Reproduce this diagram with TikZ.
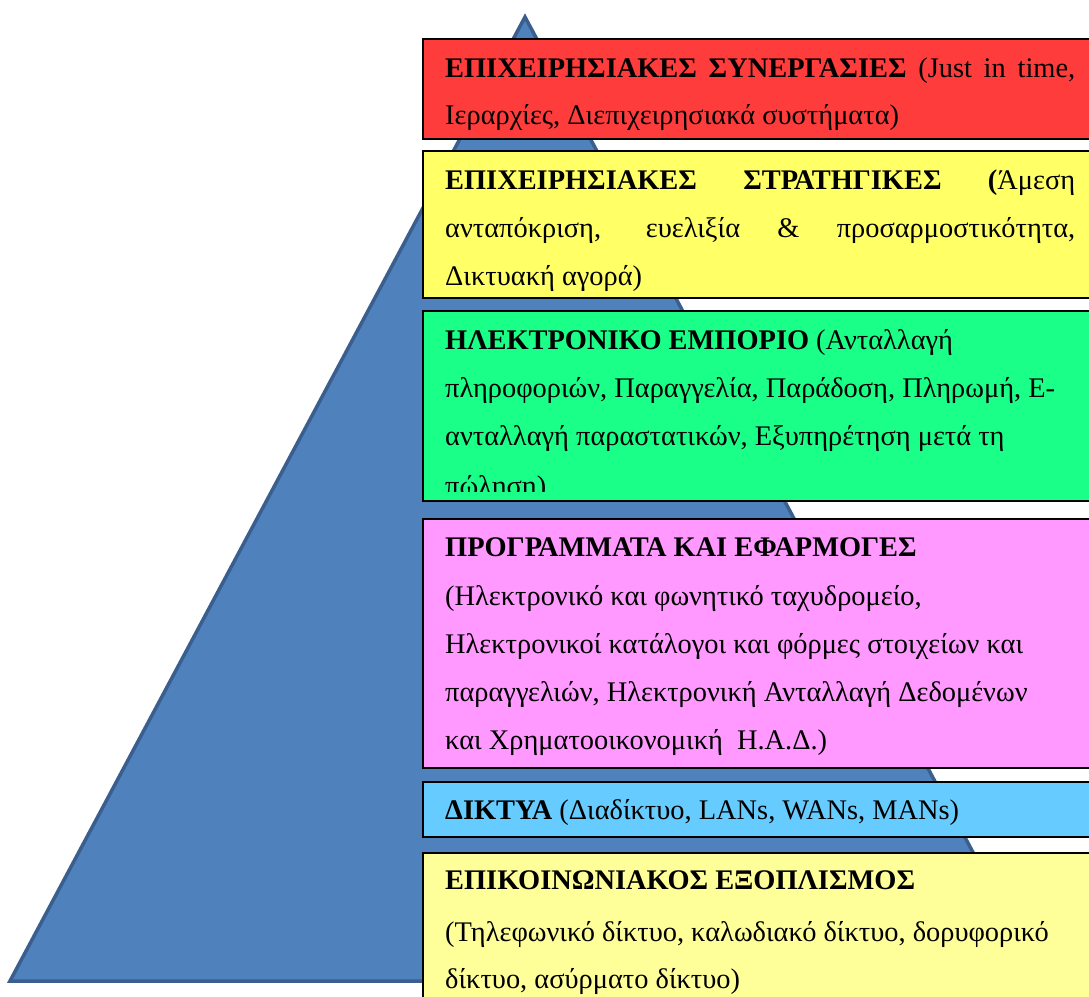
\documentclass[tikz,border=0pt]{standalone}
\usepackage{fontspec}
\setmainfont{Liberation Serif}
\definecolor{pyrfill}{HTML}{4F81BD}
\definecolor{pyredge}{HTML}{3A5F8E}
\definecolor{cred}{HTML}{FF3C3C}
\definecolor{cyel}{HTML}{FFFF66}
\definecolor{cgreen}{HTML}{1AFF88}
\definecolor{cmag}{HTML}{FF99FF}
\definecolor{ccyan}{HTML}{66CCFF}
\definecolor{clyel}{HTML}{FFFF99}
\begin{document}
\begin{tikzpicture}[x=1pt,y=-1pt,
  pyr/.style={fill=pyrfill,draw=pyredge,line width=3.5pt,line join=miter},
  layer/.style={draw=black,line width=2pt},
  txt/.style={anchor=base west,inner sep=0pt,font=\fontsize{28.4}{34}\selectfont}]
\useasboundingbox (0,0) rectangle (1089,996);
\clip (0,0) rectangle (1089,996);
% pyramid
\coordinate (apex) at (525,17);
\coordinate (bl) at (10,981);
\coordinate (br) at (1042,981);
\draw[pyr] (apex) -- (bl) -- (br) -- cycle;
% layers
\path[layer,fill=cred]   (423,39)  rectangle (1100,139);
\path[layer,fill=cyel]   (423,151) rectangle (1100,298);
\path[layer,fill=cgreen] (423,311) rectangle (1100,501);
\path[layer,fill=cmag]   (423,519) rectangle (1100,768);
\path[layer,fill=ccyan]  (423,782) rectangle (1100,837);
\path[layer,fill=clyel]  (423,853) rectangle (1100,1010);
% red
\node[txt] (r1) at (445,77) {\hbox to 630pt{\textbf{ΕΠΙΧΕΙΡΗΣΙΑΚΕΣ ΣΥΝΕΡΓΑΣΙΕΣ} (Just in time,}};
\node[txt] (r2) at (445,124) {Ιεραρχίες, Διεπιχειρησιακά συστήματα)};
% yellow
\node[txt] (y1) at (445,189) {\hbox to 630pt{\textbf{ΕΠΙΧΕΙΡΗΣΙΑΚΕΣ ΣΤΡΑΤΗΓΙΚΕΣ} \textbf{(}Άμεση}};
\node[txt] (y2) at (445,237) {\hbox to 630pt{ανταπόκριση, ευελιξία \& προσαρμοστικότητα,}};
\node[txt] (y3) at (445,285) {Δικτυακή αγορά)};
% green
\begin{scope}
\clip (423,311) rectangle (1100,491);
\node[txt] (g1) at (445,349) {\textbf{ΗΛΕΚΤΡΟΝΙΚΟ ΕΜΠΟΡΙΟ} (Ανταλλαγή};
\node[txt] (g2) at (445,397) {πληροφοριών, Παραγγελία, Παράδοση, Πληρωμή, Ε-};
\node[txt] (g3) at (445,445) {ανταλλαγή παραστατικών, Εξυπηρέτηση μετά τη};
\node[txt] (g4) at (445,495) {πώληση)};
\end{scope}
% magenta
\node[txt] (m1) at (445,556) {\textbf{ΠΡΟΓΡΑΜΜΑΤΑ ΚΑΙ ΕΦΑΡΜΟΓΕΣ}};
\node[txt] (m2) at (445,605) {(Ηλεκτρονικό και φωνητικό ταχυδρομείο,};
\node[txt] (m3) at (445,653) {Ηλεκτρονικοί κατάλογοι και φόρμες στοιχείων και};
\node[txt] (m4) at (445,701) {παραγγελιών, Ηλεκτρονική Ανταλλαγή Δεδομένων};
\node[txt] (m5) at (445,749) {και Χρηματοοικονομική\ \ Η.Α.Δ.)};
% cyan
\node[txt] (c1) at (445,819) {\textbf{ΔΙΚΤΥΑ} (Διαδίκτυο, LANs, WANs, MANs)};
% light yellow
\node[txt] (e1) at (445,889) {\textbf{ΕΠΙΚΟΙΝΩΝΙΑΚΟΣ ΕΞΟΠΛΙΣΜΟΣ}};
\node[txt] (e2) at (445,941) {(Τηλεφωνικό δίκτυο, καλωδιακό δίκτυο, δορυφορικό};
\node[txt] (e3) at (445,988) {δίκτυο, ασύρματο δίκτυο)};
\end{tikzpicture}
\end{document}
